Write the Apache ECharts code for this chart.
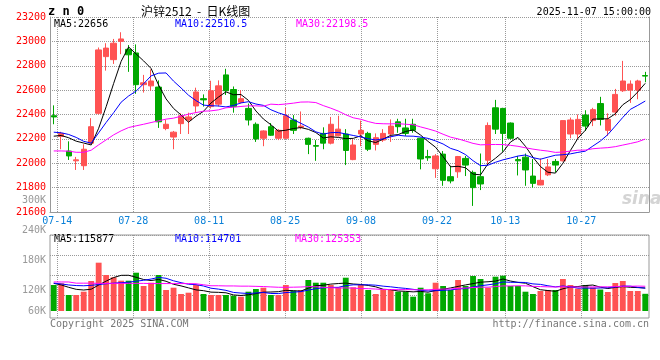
<!DOCTYPE html>
<html><head><meta charset="utf-8">
<script src="https://cdn.jsdelivr.net/npm/echarts@6/dist/echarts.min.js"></script>
<style>html,body{margin:0;padding:0;background:#fff}#c{width:660px;height:360px}</style>
</head><body><div id="c"></div>
<script>
const dates = ['07-11','07-14','07-15','07-16','07-17','07-18','07-21','07-22','07-23','07-24','07-25','07-28','07-29','07-30','07-31','08-01','08-04','08-05','08-06','08-07','08-08','08-11','08-12','08-13','08-14','08-15','08-18','08-19','08-20','08-21','08-22','08-25','08-26','08-27','08-28','08-29','09-01','09-02','09-03','09-04','09-05','09-08','09-09','09-10','09-11','09-12','09-15','09-16','09-17','09-18','09-19','09-22','09-23','09-24','09-25','09-26','09-29','09-30','10-09','10-10','10-13','10-14','10-15','10-16','10-17','10-20','10-21','10-22','10-23','10-24','10-27','10-28','10-29','10-30','10-31','11-03','11-04','11-05','11-06','11-07'];
const tickDates = ['07-14','07-28','08-11','08-25','09-08','09-22','10-13','10-27'];

const opens = [22390,22220,22100,22020,21980,22165,22410,22875,22850,23000,22935,22905,22645,22635,22625,22285,22215,22325,22355,22470,22530,22465,22485,22725,22605,22500,22450,22320,22205,22300,22205,22205,22355,22295,22205,22145,22245,22165,22225,22240,22030,22240,22245,22155,22190,22240,22340,22290,22320,22205,22055,21955,22075,21890,21930,22040,21925,21890,22025,22455,22450,22330,22030,22050,21895,21822,21905,22015,22020,22240,22240,22395,22350,22490,22270,22420,22595,22600,22600,22720];
const closes = [22380,22245,22060,22028,22115,22300,22930,22945,22985,23020,22890,22645,22660,22675,22340,22320,22255,22390,22380,22585,22520,22595,22635,22595,22465,22530,22355,22200,22265,22230,22270,22390,22270,22305,22155,22140,22165,22320,22280,22105,22150,22270,22115,22210,22245,22305,22300,22245,22270,22035,22045,22060,21860,21855,22055,21985,21800,21830,22310,22280,22245,22205,22020,21945,21835,21860,21970,21985,22350,22355,22360,22305,22440,22360,22360,22565,22675,22650,22675,22715];
const lows = [22320,22115,22027,21945,21945,22160,22400,22760,22815,22895,22750,22570,22580,22595,22290,22271,22115,22240,22240,22415,22465,22449,22465,22560,22415,22490,22310,22175,22140,22225,22190,22200,22240,22279,22075,22020,22115,22155,22220,21985,22025,22140,22100,22105,22175,22175,22250,22225,22250,21950,22020,21880,21815,21835,21880,21895,21650,21780,21980,22240,22095,22195,21900,21815,21800,21820,21895,21925,22015,22205,22200,22265,22305,22310,22225,22390,22585,22495,22525,22665];
const highs = [22475,22258,22180,22052,22156,22370,22950,22985,23020,23075,22970,22975,22725,22770,22680,22356,22265,22410,22415,22620,22565,22677,22680,22775,22630,22600,22490,22335,22270,22330,22280,22455,22395,22425,22210,22190,22295,22380,22390,22280,22195,22350,22258,22245,22280,22360,22365,22365,22365,22210,22110,22075,22100,21980,22060,22060,21940,22080,22335,22520,22455,22335,22060,22080,22035,22040,22035,22035,22350,22375,22400,22435,22455,22545,22410,22610,22840,22680,22685,22750];

const ma5 = [22222,22228,22209,22181,22166,22150,22287,22464,22655,22836,22954,22897,22840,22778,22642,22528,22450,22396,22337,22386,22426,22494,22543,22586,22562,22564,22516,22429,22363,22316,22264,22271,22285,22293,22278,22252,22207,22217,22212,22202,22204,22225,22184,22170,22198,22229,22235,22261,22273,22231,22179,22131,22054,21971,21975,21963,21911,21905,21996,22041,22093,22174,22212,22139,22050,21973,21926,21919,22000,22104,22204,22271,22362,22364,22365,22406,22480,22522,22585,22656];
const ma10 = [22255,22250,22236,22212,22180,22165,22250,22335,22415,22501,22552,22592,22652,22717,22739,22741,22674,22618,22558,22514,22477,22472,22470,22462,22474,22495,22505,22486,22475,22439,22414,22394,22357,22328,22297,22258,22239,22251,22253,22240,22228,22216,22201,22191,22200,22217,22230,22223,22222,22215,22204,22183,22158,22122,22103,22071,22021,21980,21984,22008,22028,22043,22059,22068,22046,22033,22050,22066,22070,22077,22089,22099,22141,22182,22235,22305,22376,22442,22475,22510.5];
const ma30 = [22101,22101,22099,22090,22090,22107,22151,22192,22233,22266,22293,22307,22320,22334,22348,22362,22370,22386,22403,22416,22427,22430,22438,22455,22460,22466,22471,22471,22468,22485,22481,22486,22493,22502,22503,22498,22473,22452,22428,22398,22373,22361,22342,22327,22324,22323,22325,22320,22316,22298,22282,22264,22238,22214,22200,22182,22163,22151,22153,22154,22153,22147,22139,22127,22116,22107,22100,22089,22092,22100,22107,22108,22119,22124,22128,22136,22149,22162,22176,22198.5];

const volumes = [130800,139300,80500,80500,97100,150900,243000,181000,169500,152400,152400,192600,125800,142300,181000,105600,117200,85500,92000,130800,85500,80500,80500,80500,77000,72000,97100,110700,117200,80500,80500,130800,102100,105600,155900,142300,142300,130800,119200,167500,119200,130800,105600,85500,105600,109200,97100,97100,72000,117200,89000,142300,125800,105600,155900,125800,176000,161000,117200,172500,177600,125800,125800,97100,85500,100600,105600,105600,161000,130800,112200,130800,118200,108100,95600,140800,150900,100600,100600,86500];
const volMa5 = [139000,131000,119000,109000,105600,109700,130400,150500,168300,179400,179700,169600,158500,153100,158800,149500,134400,126300,116300,106200,102200,94900,93900,91600,80800,78100,81400,87500,94800,95500,97200,103900,102200,99900,115000,127300,129600,135400,138100,140400,135800,133500,128500,121700,109300,107300,100600,98900,96200,98500,94500,103500,109300,116000,123700,131100,137800,144900,147200,150500,160900,150800,143800,139800,122400,107000,102900,98900,111700,120700,123000,128100,130600,120000,113000,118700,122700,119200,117700,115877];
const volMa10 = [140000,136000,131000,128000,127000,129000,133000,137000,140000,142500,144700,150000,154500,160700,169100,164600,152000,142400,134700,132500,125800,114600,110100,103900,93500,90200,88100,90700,93200,88200,87700,92700,94800,97400,105200,112300,116800,118800,119000,127700,131600,131600,131900,129900,124900,121600,117100,113700,109000,103900,100900,102100,104100,106100,111100,112800,120700,127100,131600,137100,146000,144300,144300,143500,136400,133900,126900,121300,125700,121500,115000,115500,114700,115800,116900,120900,125400,124900,118900,114430];
const volMa30 = [146000,146000,146000,140000,140000,140000,139000,139000,139000,139000,139000,139000,139000,138000,138000,138000,138000,138000,138000,137000,132000,127000,127000,126000,126000,125000,125000,124000,123000,121100,119400,119100,119800,120700,122600,122300,119000,117300,115600,116100,115000,113000,112300,110400,107900,108000,107300,107700,107000,106600,106700,108800,110300,111100,113700,115500,118200,119800,119800,122900,126200,126000,126800,126500,124100,122800,121500,120700,122100,120900,120600,120600,121000,121800,121500,122500,124300,124400,125400,124360];

const titleSymbol = 'z n 0';
const titleName = '沪锌2512  -  日K线图';
const timeStamp = '2025-11-07 15:00:00';
const priceLegend = ['MA5:22656','MA10:22510.5','MA30:22198.5'];
const volLegend = ['MA5:115877','MA10:114701','MA30:125353'];
const footerLeft = 'Copyright 2025 SINA.COM';
const footerRight = 'http://finance.sina.com.cn';
const watermark = 'sina';

const RED = '#ff5353', GREEN = '#00a800';
const LINE_COLORS = ['#000000', '#0000ff', '#ff00ff'];
const MONO = '"DejaVu Sans Mono","Liberation Mono",monospace';
const gridDot = { color: '#999999', type: 'dotted', width: 1, opacity: 1 };
const tickIdx = tickDates.map(d => dates.indexOf(d));
const gridScale = { min: 0.04, max: 78.92 };

const candles = opens.map((o, i) => [o, closes[i], lows[i], highs[i]]);
const volBars = volumes.map((v, i) => ({ value: v, itemStyle: { color: closes[i] >= opens[i] ? RED : GREEN } }));

function lineSeries(data, color, xi, yi) {
  return { type: 'line', xAxisIndex: xi, yAxisIndex: yi, data: data, symbol: 'none', showSymbol: false,
    lineStyle: { color: color, width: 1 }, itemStyle: { color: color }, z: 4, silent: true };
}
function txt(x, y, text, color, font, align) {
  return { type: 'text', x: x, y: y, silent: true,
    style: { text: text, fill: color, font: font, align: align || 'left', verticalAlign: 'middle' } };
}

const chart = echarts.init(document.getElementById('c'), null, { renderer: 'canvas', width: 660, height: 360 });
chart.setOption({
  animation: false,
  backgroundColor: '#ffffff',
  grid: [
    { left: 50, top: 17, width: 599, height: 195, outerBoundsMode: 'none' },
    { left: 50, top: 235, width: 599, height: 83, show: true, borderColor: '#999', borderWidth: 1, backgroundColor: 'transparent', outerBoundsMode: 'none' },
    { left: 50, top: 200, width: 599, height: 120, outerBoundsMode: 'none' },
    { left: 50, top: 235, width: 599, height: 60, outerBoundsMode: 'none' }
  ],
  xAxis: [
    { type: 'category', gridIndex: 0, data: dates, position: 'bottom', boundaryGap: true,
      axisLine: { onZero: false, lineStyle: { color: '#999' } }, axisTick: { show: false }, axisLabel: { show: false }, splitLine: { show: false } },
    { type: 'value', gridIndex: 0, position: 'bottom', min: gridScale.min, max: gridScale.max,
      axisLine: { show: false }, axisTick: { show: false, customValues: tickIdx },
      axisLabel: { customValues: tickIdx, formatter: v => dates[Math.round(v)], color: '#0a80d8', fontFamily: MONO, fontSize: 10, margin: 4 },
      splitLine: { show: true, lineStyle: gridDot } },
    { type: 'category', gridIndex: 1, data: dates, boundaryGap: true, show: false },
    { type: 'value', gridIndex: 1, position: 'bottom', min: gridScale.min, max: gridScale.max,
      axisLine: { show: false }, axisTick: { show: false, customValues: tickIdx },
      axisLabel: { show: false, customValues: tickIdx }, splitLine: { show: true, lineStyle: gridDot } },
    { type: 'value', gridIndex: 2, min: 0, max: 1, show: false },
    { type: 'value', gridIndex: 3, min: 0, max: 1, show: false }
  ],
  yAxis: [
    { type: 'value', gridIndex: 0, position: 'left', min: 21600, max: 23200, interval: 200,
      axisLine: { show: true, lineStyle: { color: '#999' } }, axisTick: { show: false },
      axisLabel: { color: '#ff0000', fontFamily: MONO, fontSize: 10, margin: 4, padding: [0, 0, 3, 0], formatter: v => String(v) },
      splitLine: { show: true, lineStyle: gridDot } },
    { type: 'value', gridIndex: 0, position: 'right', min: 21600, max: 23200, interval: 200,
      axisLine: { show: true, lineStyle: { color: '#999' } }, axisTick: { show: false }, axisLabel: { show: false }, splitLine: { show: false } },
    { type: 'value', gridIndex: 1, min: -35210, max: 382280, show: false },
    { type: 'value', gridIndex: 2, min: 60000, max: 300000, interval: 60000, position: 'left',
      axisLine: { show: false }, axisTick: { show: false }, splitLine: { show: false },
      axisLabel: { color: '#999', fontFamily: MONO, fontSize: 10, margin: 4,
        formatter: v => v === 60000 ? '{lift|' + (v / 1000) + 'K}' : (v / 1000) + 'K',
        rich: { lift: { padding: [0, 0, 18, 0], color: '#999', fontFamily: MONO, fontSize: 10 } } } },
    { type: 'value', gridIndex: 3, min: 0, max: 3, interval: 1, inverse: true,
      axisLine: { show: false }, axisTick: { show: false }, axisLabel: { show: false },
      splitLine: { show: true, lineStyle: gridDot } }
  ],
  series: [
    { type: 'candlestick', xAxisIndex: 0, yAxisIndex: 0, data: candles, barWidth: '78%',
      itemStyle: { color: RED, color0: GREEN, borderColor: RED, borderColor0: GREEN, borderWidth: 1 }, z: 2 },
    lineSeries(ma5, LINE_COLORS[0], 0, 0),
    lineSeries(ma10, LINE_COLORS[1], 0, 0),
    lineSeries(ma30, LINE_COLORS[2], 0, 0),
    { type: 'bar', xAxisIndex: 2, yAxisIndex: 2, data: volBars, barWidth: '78%', z: 2 },
    lineSeries(volMa5, LINE_COLORS[0], 2, 2),
    lineSeries(volMa10, LINE_COLORS[1], 2, 2),
    lineSeries(volMa30, LINE_COLORS[2], 2, 2)
  ],
  graphic: [
    txt(48, 12, titleSymbol, '#000', 'bold 12px ' + MONO),
    txt(141, 11, titleName, '#000', '12px "Noto Sans CJK SC",sans-serif'),
    txt(651, 12, timeStamp, '#000', '10px ' + MONO, 'right'),
    txt(54, 24, priceLegend[0], LINE_COLORS[0], '10px ' + MONO),
    txt(175, 24, priceLegend[1], LINE_COLORS[1], '10px ' + MONO),
    txt(296, 24, priceLegend[2], LINE_COLORS[2], '10px ' + MONO),
    txt(54, 239, volLegend[0], LINE_COLORS[0], '10px ' + MONO),
    txt(175, 239, volLegend[1], LINE_COLORS[1], '10px ' + MONO),
    txt(295, 239, volLegend[2], LINE_COLORS[2], '10px ' + MONO),
    txt(50, 324, footerLeft, '#777', '10px ' + MONO),
    txt(649, 324, footerRight, '#777', '10px ' + MONO, 'right'),
    txt(622, 200, watermark, '#d4d4d4', 'italic bold 17px "DejaVu Sans",sans-serif')
  ]
});
</script></body></html>
